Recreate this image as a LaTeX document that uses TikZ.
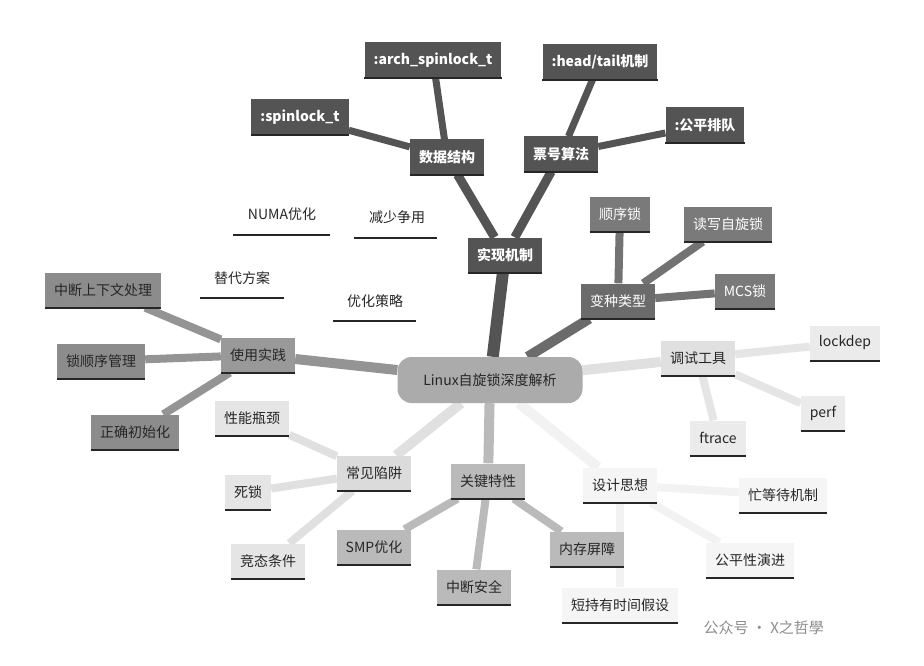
\documentclass[tikz,border=0pt]{standalone}
\usepackage{fontspec}
\setmainfont{Noto Sans CJK SC}
\usetikzlibrary{backgrounds}
\begin{document}
\begin{tikzpicture}[x=1pt,y=-1pt,
  box/.style={draw=none,inner xsep=9pt,minimum height=35pt,font=\fontsize{14}{16}\selectfont},
  dk/.style={box,fill=#1,text=white,font=\fontsize{14}{16}\selectfont\bfseries},
  lt/.style={box,fill=#1,text=black!85},
  ed/.style={line width=#1},
  ul/.style={line width=2pt,black!85}]
\useasboundingbox (0,0) rectangle (924,666);
% nodes
\node[rounded corners=14pt,fill=black!33,minimum width=185pt,minimum height=46pt,font=\fontsize{14}{16}\selectfont,text=black!85] (root) at (490,380) {Linux自旋锁深度解析};
\node[dk=black!67] (shix) at (505,255) {实现机制};
\node[dk=black!67] (sjjg) at (447,157) {数据结构};
\node[dk=black!67] (spin) at (300,117) {:spinlock\_t};
\node[dk=black!67] (arch) at (433,60) {:arch\_spinlock\_t};
\node[dk=black!67] (phsf) at (561,154) {票号算法};
\node[dk=black!67] (head) at (600,62) {:head/tail机制};
\node[dk=black!67] (gppd) at (705,125) {:公平排队};
\node[lt=black!58,text=white] (bzlx) at (618,301) {变种类型};
\node[lt=black!52,text=white] (sxs) at (620,214) {顺序锁};
\node[lt=black!52,text=white] (dxzx) at (728,224) {读写自旋锁};
\node[lt=black!52,text=white] (mcs) at (745,291) {MCS锁};
\node[lt=black!40] (sysj) at (258,355) {使用实践};
\node[lt=black!45] (zdsx) at (103,290) {中断上下文处理};
\node[lt=black!45] (sxgl) at (101,361) {锁顺序管理};
\node[lt=black!45] (zqcs) at (135,432) {正确初始化};
\node[lt=black!12] (tsgj) at (698,358) {调试工具};
\node[lt=black!8] (lock) at (845,343) {lockdep};
\node[lt=black!8] (perf) at (823,413) {perf};
\node[lt=black!8] (ftra) at (718,438) {ftrace};
\node[lt=black!14] (cjxj) at (374,473) {常见陷阱};
\node[lt=black!10] (xnpj) at (252,418) {性能瓶颈};
\node[lt=black!10] (sis) at (248,492) {死锁};
\node[lt=black!10] (jttj) at (268,561) {竞态条件};
\node[lt=black!27] (gjtx) at (488,481) {关键特性};
\node[lt=black!27] (smp) at (374,547) {SMP优化};
\node[lt=black!27] (zdaq) at (474,587) {中断安全};
\node[lt=black!27] (ncpz) at (587,549) {内存屏障};
\node[lt=black!4] (sjsx) at (620,485) {设计思想};
\node[lt=black!4] (mdd) at (783,495) {忙等待机制};
\node[lt=black!4] (gpx) at (750,560) {公平性演进};
\node[lt=black!4] (dcy) at (620,605) {短持有时间假设};
% floating labels
\node[font=\fontsize{14}{16}\selectfont,text=black!85] (numa) at (282,214) {NUMA优化};
\node[font=\fontsize{14}{16}\selectfont,text=black!85] (jszy) at (397,217) {减少争用};
\node[font=\fontsize{14}{16}\selectfont,text=black!85] (tdfa) at (242,278) {替代方案};
\node[font=\fontsize{14}{16}\selectfont,text=black!85] (yhcl) at (375,301) {优化策略};
\draw[ul] (233,235) -- (330,235);
\draw[ul] (354,238) -- (437,238);
\draw[ul] (200,298) -- (284,298);
\draw[ul] (333,321) -- (416,321);
% underlines on boxes
\foreach \n in {shix,sjjg,spin,arch,phsf,head,gppd,bzlx,sxs,dxzx,mcs,sysj,zdsx,sxgl,zqcs,tsgj,lock,perf,ftra,cjxj,xnpj,sis,jttj,gjtx,smp,zdaq,ncpz,sjsx,mdd,gpx,dcy}
  \draw[ul] (\n.south west) -- (\n.south east);
\begin{scope}[on background layer]
\draw[ed=12pt,black!67] (root) -- (shix);
\draw[ed=9pt,black!67] (shix) -- (sjjg);
\draw[ed=9pt,black!67] (shix) -- (phsf);
\draw[ed=7pt,black!67] (sjjg) -- (spin);
\draw[ed=7pt,black!67] (sjjg) -- (arch);
\draw[ed=7pt,black!67] (phsf) -- (head);
\draw[ed=7pt,black!67] (phsf) -- (gppd);
\draw[ed=10pt,black!58] (root) -- (bzlx);
\draw[ed=8pt,black!55] (bzlx) -- (sxs);
\draw[ed=8pt,black!55] (bzlx) -- (dxzx);
\draw[ed=8pt,black!55] (bzlx) -- (mcs);
\draw[ed=10pt,black!42] (root) -- (sysj);
\draw[ed=8pt,black!42] (sysj) -- (zdsx);
\draw[ed=8pt,black!42] (sysj) -- (sxgl);
\draw[ed=8pt,black!42] (sysj) -- (zqcs);
\draw[ed=10pt,black!12] (root) -- (tsgj);
\draw[ed=8pt,black!10] (tsgj) -- (lock);
\draw[ed=8pt,black!10] (tsgj) -- (perf);
\draw[ed=8pt,black!10] (tsgj) -- (ftra);
\draw[ed=10pt,black!12] (root) -- (cjxj);
\draw[ed=8pt,black!12] (cjxj) -- (xnpj);
\draw[ed=8pt,black!12] (cjxj) -- (sis);
\draw[ed=8pt,black!12] (cjxj) -- (jttj);
\draw[ed=10pt,black!27] (root) -- (gjtx);
\draw[ed=8pt,black!27] (gjtx) -- (smp);
\draw[ed=8pt,black!27] (gjtx) -- (zdaq);
\draw[ed=8pt,black!27] (gjtx) -- (ncpz);
\draw[ed=10pt,black!5] (root) -- (sjsx);
\draw[ed=8pt,black!5] (sjsx) -- (mdd);
\draw[ed=8pt,black!5] (sjsx) -- (gpx);
\draw[ed=8pt,black!5] (sjsx) -- (dcy);
\end{scope}
\node[font=\fontsize{15}{17}\selectfont,text=black!45,anchor=west] (wm) at (700,628) {公众号 · X之哲學};
\end{tikzpicture}
\end{document}
